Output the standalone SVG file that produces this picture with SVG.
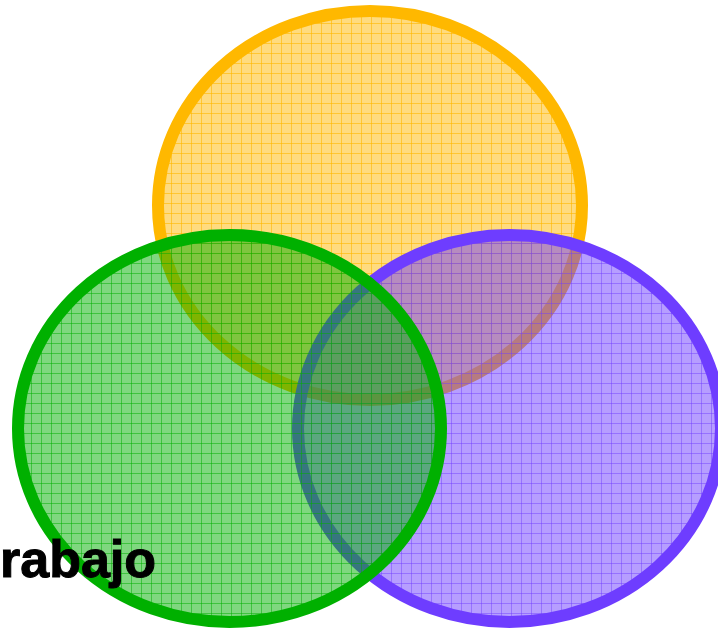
<svg xmlns="http://www.w3.org/2000/svg" width="718" height="631" viewBox="0 0 718 631">
<defs>
<pattern id="pO" patternUnits="userSpaceOnUse" x="1" y="3" width="10" height="10">
<rect width="10" height="10" fill="#FFB800" fill-opacity="0.5"/>
<path d="M0.5 0V10M0 0.5H10" stroke="#FFB800" stroke-opacity="0.6" stroke-width="1"/>
</pattern>
<pattern id="pG" patternUnits="userSpaceOnUse" x="1" y="3" width="10" height="10">
<rect width="10" height="10" fill="#00B000" fill-opacity="0.5"/>
<path d="M0.5 0V10M0 0.5H10" stroke="#00B000" stroke-opacity="0.5" stroke-width="1"/>
</pattern>
<pattern id="pP" patternUnits="userSpaceOnUse" x="1" y="3" width="10" height="10">
<rect width="10" height="10" fill="#6E3DFF" fill-opacity="0.5"/>
<path d="M0.5 0V10M0 0.5H10" stroke="#6E3DFF" stroke-opacity="0.45" stroke-width="1"/>
</pattern>
</defs>
<style>
.c{stroke-width:12}
.t{font-family:"Liberation Sans",Arial,sans-serif;font-weight:bold;font-size:52px;fill:#000;stroke:#000;stroke-width:1}
</style>
<g id="orange">
<ellipse class="c" cx="370" cy="205.5" rx="212" ry="194.5" fill="url(#pO)" stroke="#FFB800"/>
</g>
<g id="purple">
<ellipse class="c" cx="509.5" cy="428.5" rx="211.5" ry="193.5" fill="url(#pP)" stroke="#6E3DFF"/>
</g>
<g id="green">
<ellipse class="c" cx="229.5" cy="428.5" rx="211.5" ry="193.5" fill="url(#pG)" stroke="#00B000"/>
</g>
<g id="label">
<text class="t" x="0" y="577">rabajo</text>
</g>
</svg>
